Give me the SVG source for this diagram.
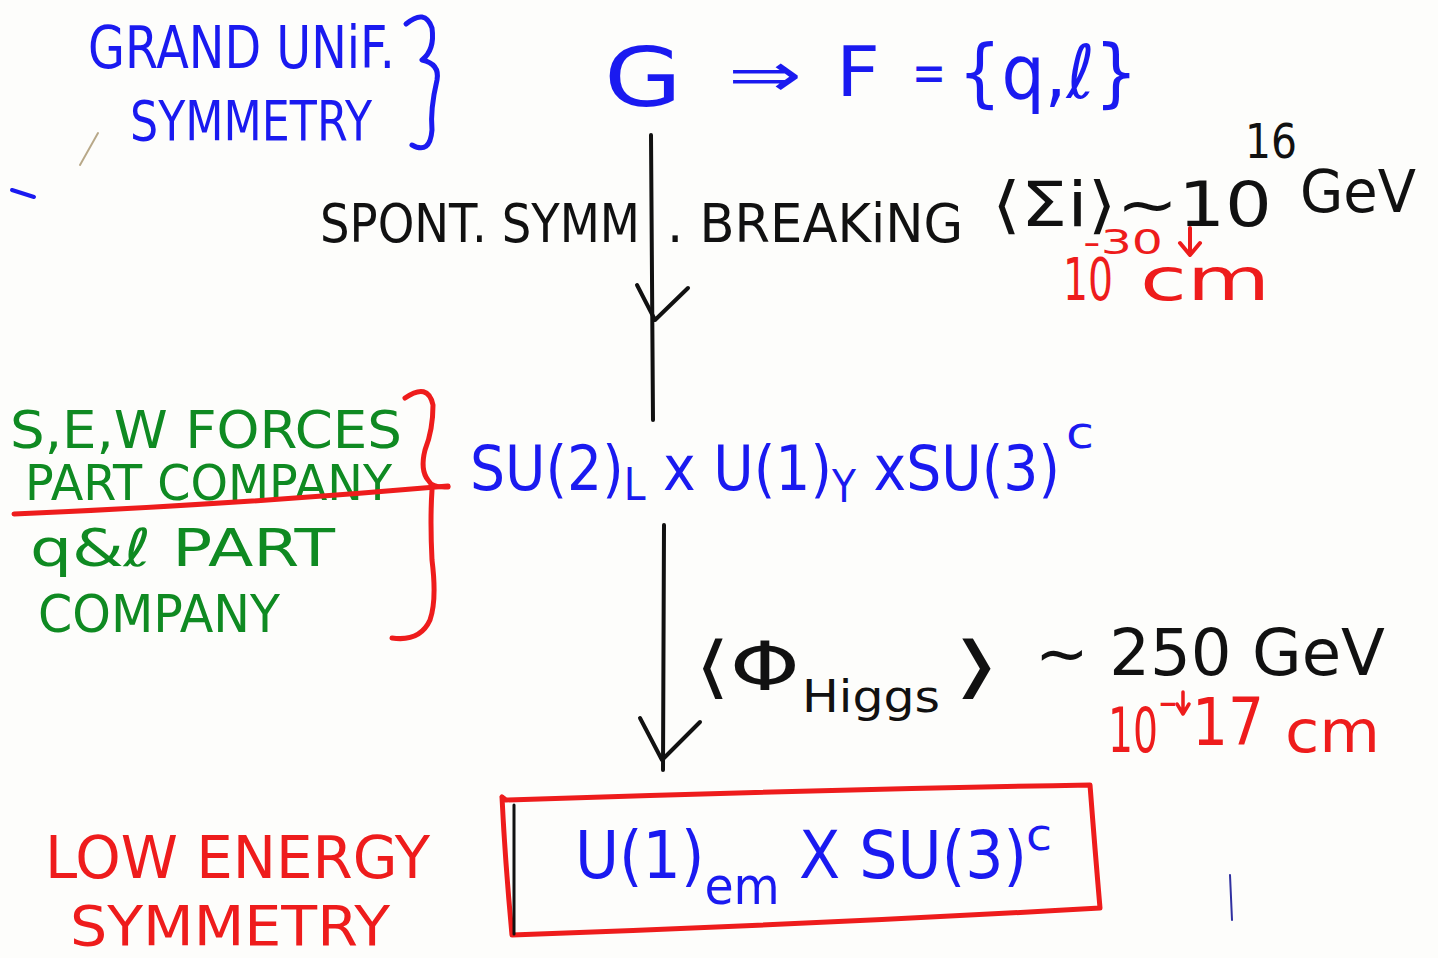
<svg xmlns="http://www.w3.org/2000/svg" width="1438" height="958" viewBox="0 0 1438 958">
<defs>
<style>
text{font-family:"DejaVu Sans","Liberation Sans",sans-serif;}
.b{fill:#1a1af0;}
.k{fill:#111;}
.g{fill:#0f8a22;}
.r{fill:#ee1c1c;}
.ln{fill:none;stroke-linecap:round;stroke-linejoin:round;}
.sb{stroke:#1a1af0;}
.sk{stroke:#111;}
.sr{stroke:#ee1c1c;}
</style>
</defs>
<rect width="1438" height="958" fill="#fdfdfb"/>

<g id="stray">
<path class="ln sb" d="M12,190 L34,197" stroke-width="4"/>
<path class="ln" d="M80,165 L98,133" stroke="#b8a888" stroke-width="2"/>
<path class="ln" d="M1230,875 L1232,920" stroke="#3030a0" stroke-width="2"/>
</g>

<g id="grand-unif-label">
<text class="b" x="88" y="68" font-size="58" textLength="307" lengthAdjust="spacingAndGlyphs">GRAND UNiF.</text>
<text class="b" x="130" y="140" font-size="56" textLength="242" lengthAdjust="spacingAndGlyphs">SYMMETRY</text>
<path class="ln sb" stroke-width="5" d="M406,24 Q425,8 432,28 Q435,50 422,60 Q440,64 437,80 Q430,110 432,130 Q430,155 412,145"/>
</g>

<g id="top-node">
<text class="b" x="604" y="106" font-size="82" textLength="78" lengthAdjust="spacingAndGlyphs">G</text>
<text class="b" x="728" y="96" font-size="62" textLength="74" lengthAdjust="spacingAndGlyphs">⇒</text>
<text class="b" x="836" y="96" font-size="70" textLength="44" lengthAdjust="spacingAndGlyphs">F</text>
<text class="b" x="912" y="92" font-size="56" textLength="34" lengthAdjust="spacingAndGlyphs">=</text>
<text class="b" x="958" y="98" font-size="74" textLength="180" lengthAdjust="spacingAndGlyphs">{q,ℓ}</text>
</g>

<g id="mid-node">
<text class="b" x="470" y="490" font-size="62" textLength="590" lengthAdjust="spacingAndGlyphs">SU(2)<tspan font-size="44" dy="10">L</tspan><tspan dy="-10"> x U(1)</tspan><tspan font-size="44" dy="12">Y</tspan><tspan dy="-12"> xSU(3)</tspan></text>
<text class="b" x="1066" y="448" font-size="44" textLength="28" lengthAdjust="spacingAndGlyphs">c</text>
</g>

<g id="mid-labels">
<text class="g" x="10" y="448" font-size="52" textLength="392" lengthAdjust="spacingAndGlyphs">S,E,W FORCES</text>
<text class="g" x="25" y="500" font-size="50" textLength="367" lengthAdjust="spacingAndGlyphs">PART COMPANY</text>
<text class="g" x="30" y="566" font-size="52" textLength="305" lengthAdjust="spacingAndGlyphs">q&amp;ℓ PART</text>
<text class="g" x="38" y="632" font-size="52" textLength="242" lengthAdjust="spacingAndGlyphs">COMPANY</text>
<path class="ln sr" stroke-width="5" d="M14,514 Q230,505 448,486"/>
<path class="ln sr" stroke-width="5" d="M405,398 Q428,382 433,405 Q433,430 425,450 Q420,470 428,480 Q432,488 448,487"/>
<path class="ln sr" stroke-width="5" d="M432,490 Q430,520 432,560 Q437,600 430,620 Q420,642 392,638"/>
</g>

<g id="bottom-node">
<path class="ln sr" stroke-width="5" d="M502,797 L506,800 Q800,790 1090,785 Q1095,850 1100,908 Q800,925 512,935 Q505,860 502,797"/>
<path class="ln sk" stroke-width="3" d="M514,805 L514,934"/>
<text class="b" x="575" y="878" font-size="66" textLength="452" lengthAdjust="spacingAndGlyphs">U(1)<tspan font-size="52" dy="26">em</tspan><tspan dy="-26"> X SU(3)</tspan></text>
<text class="b" x="1026" y="850" font-size="44" textLength="26" lengthAdjust="spacingAndGlyphs">c</text>
</g>

<g id="low-energy-label">
<text class="r" x="45" y="878" font-size="58" textLength="385" lengthAdjust="spacingAndGlyphs">LOW ENERGY</text>
<text class="r" x="70" y="945" font-size="56" textLength="320" lengthAdjust="spacingAndGlyphs">SYMMETRY</text>
</g>

<g id="connectors">
<path class="ln sk" stroke-width="4" d="M651,135 L653,420"/>
<path class="ln sk" stroke-width="4" d="M637,285 L655,320 L688,288"/>
<path class="ln sk" stroke-width="4" d="M664,525 L663,770"/>
<path class="ln sk" stroke-width="4" d="M640,718 L662,760 L700,722"/>
</g>

<g id="edge-labels">
<text class="k" x="320" y="242" font-size="54" textLength="320" lengthAdjust="spacingAndGlyphs">SPONT. SYMM</text>
<text class="k" x="667" y="242" font-size="54" textLength="296" lengthAdjust="spacingAndGlyphs">. BREAKiNG</text>
<text class="k" x="992" y="226" font-size="62" textLength="280" lengthAdjust="spacingAndGlyphs">⟨Σi⟩~10</text>
<text class="k" x="1245" y="158" font-size="48" textLength="52" lengthAdjust="spacingAndGlyphs">16</text>
<text class="k" x="1300" y="212" font-size="58" textLength="116" lengthAdjust="spacingAndGlyphs">GeV</text>
<text class="r" x="1063" y="300" font-size="58" textLength="50" lengthAdjust="spacingAndGlyphs">10</text>
<text class="r" x="1083" y="254" font-size="34" textLength="80" lengthAdjust="spacingAndGlyphs">-30</text>
<path class="ln sr" stroke-width="4" d="M1190,228 L1190,253 M1180,243 L1190,255 L1200,243"/>
<text class="r" x="1140" y="300" font-size="58" textLength="130" lengthAdjust="spacingAndGlyphs">cm</text>

<text class="k" x="695" y="690" font-size="68" textLength="105" lengthAdjust="spacingAndGlyphs">⟨Φ</text>
<text class="k" x="802" y="712" font-size="44" textLength="138" lengthAdjust="spacingAndGlyphs">Higgs</text>
<text class="k" x="952" y="690" font-size="68" textLength="50" lengthAdjust="spacingAndGlyphs">⟩</text>
<text class="k" x="1035" y="675" font-size="64" textLength="350" lengthAdjust="spacingAndGlyphs">~ 250 GeV</text>
<text class="r" x="1108" y="752" font-size="62" textLength="50" lengthAdjust="spacingAndGlyphs">10</text>
<text class="r" x="1158" y="716" font-size="40" textLength="20" lengthAdjust="spacingAndGlyphs">-</text>
<path class="ln sr" stroke-width="3.5" d="M1183,692 L1183,712 M1177,704 L1183,714 L1189,704"/>
<text class="r" x="1192" y="745" font-size="66" textLength="72" lengthAdjust="spacingAndGlyphs">17</text>
<text class="r" x="1285" y="752" font-size="58" textLength="95" lengthAdjust="spacingAndGlyphs">cm</text>
</g>
</svg>
